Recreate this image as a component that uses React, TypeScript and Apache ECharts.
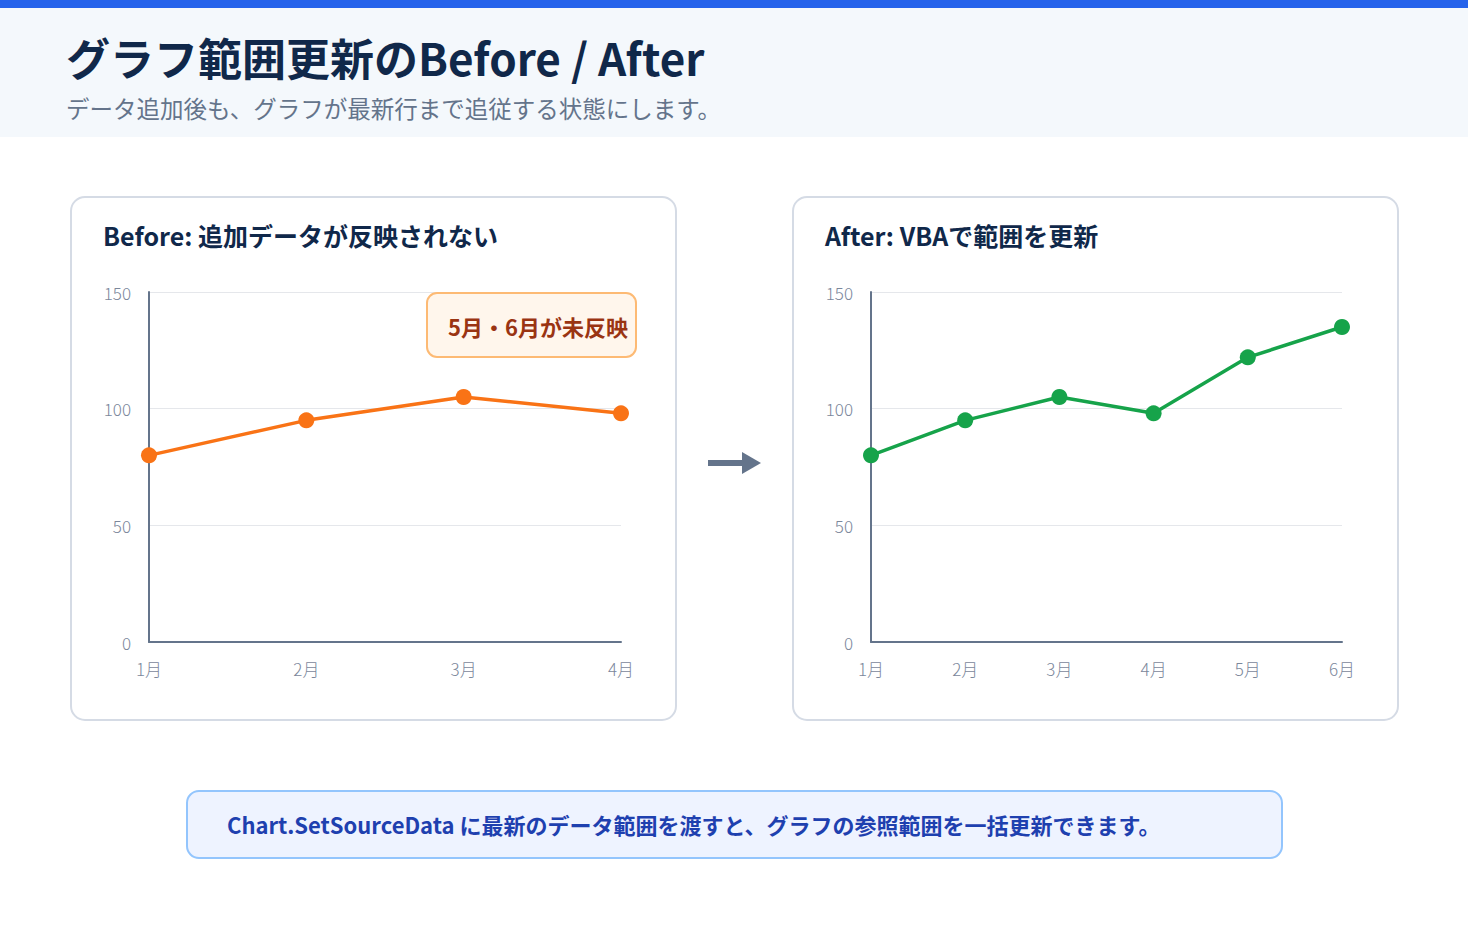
import React, { useEffect, useRef } from "react";
import * as echarts from "echarts";

const beforeMonths = ["1月", "2月", "3月", "4月"];
const beforeValues = [80, 95, 105, 98];
const afterMonths = ["1月", "2月", "3月", "4月", "5月", "6月"];
const afterValues = [80, 95, 105, 98, 122, 135];
const yTicks = { min: 0, max: 150, interval: 50 };

const FONT = '"Noto Sans CJK JP", "Noto Sans", sans-serif';

export default function App() {
  const ref = useRef<HTMLDivElement>(null);
  useEffect(() => {
    if (!ref.current) return;
    const chart = echarts.init(ref.current, null, { renderer: "svg" });
    const axisLabel = { color: "#7b879b", fontSize: 17, fontFamily: FONT, fontWeight: 300 };
    const yAxisBase = {
      type: "value",
      min: yTicks.min,
      max: yTicks.max,
      interval: yTicks.interval,
      axisLine: { show: true, lineStyle: { color: "#64748b", width: 2 } },
      axisTick: { show: false },
      splitLine: { lineStyle: { color: "#e5e7eb", width: 1 } },
      axisLabel: { ...axisLabel, margin: 18 },
    };
    const xAxisBase = {
      type: "category",
      boundaryGap: false,
      axisLine: { show: true, lineStyle: { color: "#64748b", width: 2 } },
      axisTick: { show: false },
      axisLabel: { ...axisLabel, margin: 18 },
    };
    chart.setOption({
      animation: false,
      textStyle: { fontFamily: FONT },
      graphic: [
        { type: "rect", shape: { x: 0, y: 0, width: 1468, height: 137 }, style: { fill: "#f4f8fc" }, z: -10 },
        { type: "rect", shape: { x: 0, y: 0, width: 1468, height: 8 }, style: { fill: "#2563eb" }, z: -9 },
        {
          type: "text", x: 66, y: 57,
          style: { text: "グラフ範囲更新のBefore / After", fill: "#10284a", font: `bold 44px ${FONT}`, textVerticalAlign: "middle" },
        },
        {
          type: "text", x: 66, y: 108,
          style: { text: "データ追加後も、グラフが最新行まで追従する状態にします。", fill: "#64748b", font: `23.5px ${FONT}`, textVerticalAlign: "middle" },
        },
        { type: "rect", shape: { x: 71, y: 197, width: 605, height: 523, r: 14 }, style: { fill: "#ffffff", stroke: "#d5dbe5", lineWidth: 2 }, z: -5 },
        { type: "rect", shape: { x: 793, y: 197, width: 605, height: 523, r: 14 }, style: { fill: "#ffffff", stroke: "#d5dbe5", lineWidth: 2 }, z: -5 },
        {
          type: "text", x: 103, y: 235,
          style: { text: "Before: 追加データが反映されない", fill: "#10284a", font: `bold 25px ${FONT}`, textVerticalAlign: "middle" },
        },
        {
          type: "text", x: 825, y: 235,
          style: { text: "After: VBAで範囲を更新", fill: "#10284a", font: `bold 25px ${FONT}`, textVerticalAlign: "middle" },
        },
        { type: "rect", shape: { x: 427, y: 293, width: 209, height: 64, r: 10 }, style: { fill: "#fff6ec", stroke: "#fdba74", lineWidth: 2 }, z: 10 },
        {
          type: "text", x: 538, y: 326, z: 11,
          style: { text: "5月・6月が未反映", fill: "#9a3412", font: `bold 22px ${FONT}`, textAlign: "center", textVerticalAlign: "middle" },
        },
        { type: "rect", shape: { x: 708, y: 460, width: 38, height: 6 }, style: { fill: "#64748b" } },
        { type: "polygon", shape: { points: [[742, 452], [761, 463], [742, 474]] }, style: { fill: "#64748b" } },
        { type: "rect", shape: { x: 187, y: 791, width: 1095, height: 67, r: 12 }, style: { fill: "#eef3ff", stroke: "#93c5fd", lineWidth: 2 }, z: -5 },
        {
          type: "text", x: 227, y: 824,
          style: { text: "Chart.SetSourceData に最新のデータ範囲を渡すと、グラフの参照範囲を一括更新できます。", fill: "#1e40af", font: `bold 22px ${FONT}`, textVerticalAlign: "middle" },
        },
      ],
      grid: [
        { left: 149, top: 292, width: 472, height: 350 },
        { left: 871, top: 292, width: 471, height: 350 },
      ],
      xAxis: [
        { ...xAxisBase, gridIndex: 0, data: beforeMonths },
        { ...xAxisBase, gridIndex: 1, data: afterMonths },
      ],
      yAxis: [
        { ...yAxisBase, gridIndex: 0 },
        { ...yAxisBase, gridIndex: 1 },
      ],
      series: [
        {
          type: "line", xAxisIndex: 0, yAxisIndex: 0, data: beforeValues,
          symbol: "circle", symbolSize: 16,
          lineStyle: { color: "#f97316", width: 3.5 },
          itemStyle: { color: "#f97316" },
        },
        {
          type: "line", xAxisIndex: 1, yAxisIndex: 1, data: afterValues,
          symbol: "circle", symbolSize: 16,
          lineStyle: { color: "#16a34a", width: 3.5 },
          itemStyle: { color: "#16a34a" },
        },
      ],
    });
    return () => chart.dispose();
  }, []);
  return (
    <div
      ref={ref}
      style={{ position: "fixed", left: 0, top: 0, width: 1468, height: 940, background: "#ffffff" }}
    />
  );
}
